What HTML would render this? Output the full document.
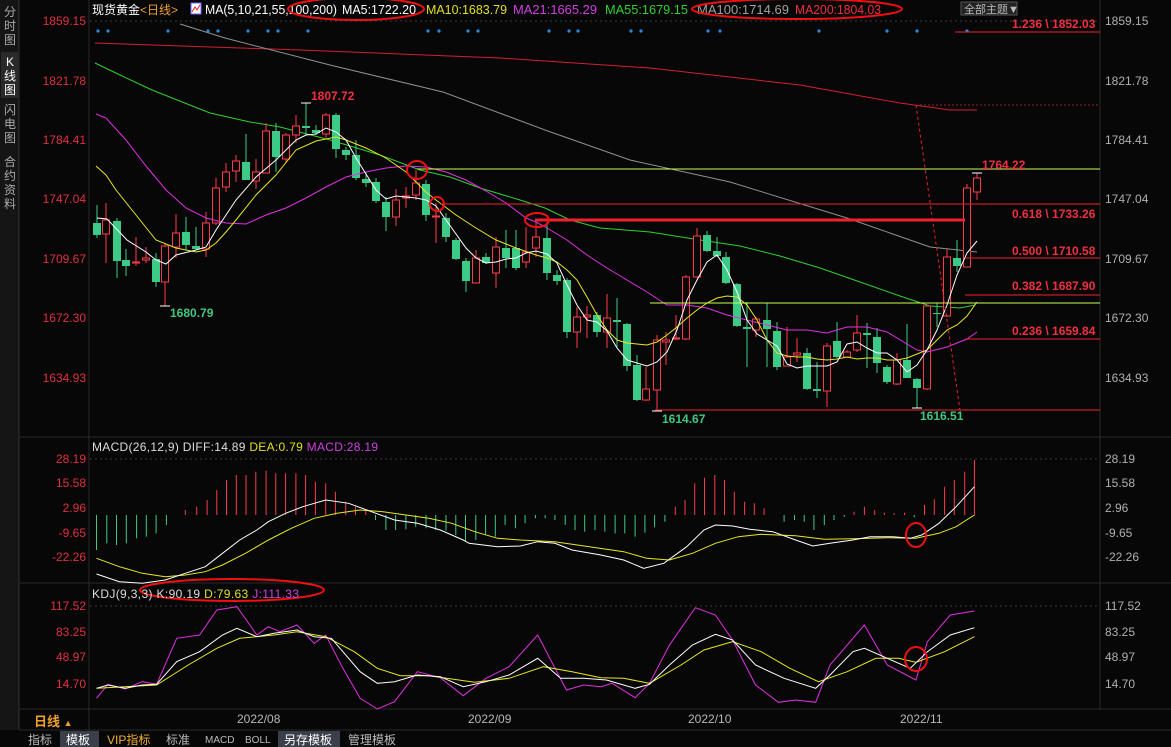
<!DOCTYPE html>
<html><head><meta charset="utf-8"><style>
html,body{margin:0;padding:0;background:#070707;width:1171px;height:747px;overflow:hidden;font-family:"Liberation Sans","Noto Sans CJK SC",sans-serif}
svg{position:absolute;left:0;top:0}
</style></head><body>
<svg id="s" width="1171" height="747" xmlns="http://www.w3.org/2000/svg" font-family="Liberation Sans, Noto Sans CJK SC, sans-serif">
<rect width="1171" height="747" fill="#070707"/>
<rect x="0" y="0" width="19" height="730" fill="#151515"/>
<line x1="19" y1="0" x2="19" y2="730" stroke="#333"/>
<g fill="#aaa" font-size="12" text-anchor="middle">
<text x="10" y="16">分</text><text x="10" y="30">时</text><text x="10" y="44">图</text>
<rect x="1" y="52" width="17" height="46" fill="#2a2a2a"/>
<text x="10" y="66" fill="#fff">K</text><text x="10" y="80" fill="#fff">线</text><text x="10" y="94" fill="#fff">图</text>
<text x="10" y="114">闪</text><text x="10" y="128">电</text><text x="10" y="142">图</text>
<text x="10" y="166">合</text><text x="10" y="180">约</text><text x="10" y="194">资</text><text x="10" y="208">料</text>
</g>
<g stroke="#2a2a2a">
<line x1="89" y1="0" x2="89" y2="730"/><line x1="1100" y1="0" x2="1100" y2="710"/>
<line x1="19" y1="437" x2="1171" y2="437"/><line x1="19" y1="583" x2="1171" y2="583"/>
<line x1="19" y1="709" x2="1171" y2="709"/><line x1="19" y1="730" x2="1171" y2="730"/>
</g>
<g stroke="#3a3a3a" stroke-dasharray="2,3">
<line x1="90" y1="21" x2="1100" y2="21"/><line x1="90" y1="459" x2="1100" y2="459"/><line x1="90" y1="606" x2="1100" y2="606"/>
</g>
<text x="92" y="14" font-size="12" fill="#fff">现货黄金<tspan fill="#f0a030">&lt;日线&gt;</tspan></text>
<rect x="191" y="3" width="10" height="11" fill="#fff" stroke="#66f"/><polyline points="192,12 195,7 197,10 200,5" stroke="#e02020" fill="none"/>
<g font-size="12.5" lengthAdjust="spacingAndGlyphs">
<text x="205" y="14" fill="#fff" textLength="132" lengthAdjust="spacingAndGlyphs">MA(5,10,21,55,100,200)</text>
<text x="342" y="14" fill="#fff" textLength="74" lengthAdjust="spacingAndGlyphs">MA5:1722.20</text>
<text x="426" y="14" fill="#e0e020" textLength="81" lengthAdjust="spacingAndGlyphs">MA10:1683.79</text>
<text x="513" y="14" fill="#d040e0" textLength="84" lengthAdjust="spacingAndGlyphs">MA21:1665.29</text>
<text x="605" y="14" fill="#30d030" textLength="83" lengthAdjust="spacingAndGlyphs">MA55:1679.15</text>
<text x="697" y="14" fill="#a0a0a0" textLength="92" lengthAdjust="spacingAndGlyphs">MA100:1714.69</text>
<text x="795" y="14" fill="#f03040" textLength="86" lengthAdjust="spacingAndGlyphs">MA200:1804.03</text>
</g>
<rect x="961" y="2" width="56" height="13" fill="#222" stroke="#555"/>
<text x="964" y="13" font-size="11" fill="#bbb">全部主题▼</text>
<g font-size="12" fill="#e03040" text-anchor="end">
<text x="86" y="25">1859.15</text><text x="86" y="85">1821.78</text><text x="86" y="144">1784.41</text><text x="86" y="203">1747.04</text><text x="86" y="263">1709.67</text><text x="86" y="322">1672.30</text><text x="86" y="382">1634.93</text>
<text x="86" y="463">28.19</text><text x="86" y="487">15.58</text><text x="86" y="512">2.96</text><text x="86" y="537">-9.65</text><text x="86" y="561">-22.26</text>
<text x="86" y="610">117.52</text><text x="86" y="636">83.25</text><text x="86" y="661">48.97</text><text x="86" y="688">14.70</text>
</g>
<g font-size="12" fill="#b0b0b0">
<text x="1105" y="25">1859.15</text><text x="1105" y="85">1821.78</text><text x="1105" y="144">1784.41</text><text x="1105" y="203">1747.04</text><text x="1105" y="263">1709.67</text><text x="1105" y="322">1672.30</text><text x="1105" y="382">1634.93</text>
<text x="1105" y="463">28.19</text><text x="1105" y="487">15.58</text><text x="1105" y="512">2.96</text><text x="1105" y="537">-9.65</text><text x="1105" y="561">-22.26</text>
<text x="1105" y="610">117.52</text><text x="1105" y="636">83.25</text><text x="1105" y="661">48.97</text><text x="1105" y="688">14.70</text>
</g>
<g id="g"></g>
<g stroke-width="1">
<line x1="955" y1="32" x2="1100" y2="32" stroke="#f02030"/>
<line x1="920" y1="105" x2="1100" y2="105" stroke="#902020" stroke-dasharray="2,2"/>
<line x1="417" y1="169" x2="1100" y2="169" stroke="#c8ff50"/>
<line x1="440" y1="204" x2="1100" y2="204" stroke="#f02030"/>
<line x1="535" y1="220" x2="965" y2="220" stroke="#f02030" stroke-width="3"/>
<line x1="965" y1="258" x2="1100" y2="258" stroke="#f02030"/>
<line x1="965" y1="295" x2="1100" y2="295" stroke="#f02030"/>
<line x1="650" y1="303" x2="1100" y2="303" stroke="#c8ff50"/>
<line x1="965" y1="339" x2="1100" y2="339" stroke="#f02030"/>
<line x1="655" y1="410" x2="1100" y2="410" stroke="#f02030"/>
<line x1="916" y1="105" x2="960" y2="410" stroke="#f02030" stroke-dasharray="3,3"/>
</g>
<g font-size="12" fill="#f03040" font-weight="bold">
<text x="1012" y="28">1.236 \ 1852.03</text>
<text x="982" y="169">1764.22</text>
<text x="1012" y="218">0.618 \ 1733.26</text>
<text x="1012" y="255">0.500 \ 1710.58</text>
<text x="1012" y="290">0.382 \ 1687.90</text>
<text x="1012" y="335">0.236 \ 1659.84</text>
<text x="311" y="100">1807.72</text>
</g>
<g font-size="12" fill="#40c880" font-weight="bold">
<text x="170" y="317">1680.79</text><text x="662" y="423">1614.67</text><text x="920" y="420">1616.51</text>
</g>
<g fill="none" stroke="#f01010" stroke-width="2">
<ellipse cx="356" cy="9" rx="68" ry="11"/><ellipse cx="797" cy="9" rx="105" ry="10"/>
<ellipse cx="417" cy="170" rx="10" ry="9"/><ellipse cx="437" cy="204" rx="7" ry="7"/><ellipse cx="537" cy="220" rx="12" ry="7"/>
<ellipse cx="916" cy="535" rx="10" ry="12"/><ellipse cx="916" cy="659" rx="11" ry="12"/>
<ellipse cx="232" cy="590" rx="92" ry="11"/>
</g>
<text x="92" y="451" font-size="12" fill="#ddd" textLength="286" lengthAdjust="spacing">MACD(26,12,9) DIFF:14.89 <tspan fill="#e0e020">DEA:0.79</tspan> <tspan fill="#d040e0">MACD:28.19</tspan></text>
<text x="92" y="598" font-size="12" fill="#ddd" textLength="207" lengthAdjust="spacing">KDJ(9,3,3) K:90.19 <tspan fill="#e0e020">D:79.63</tspan> <tspan fill="#d040e0">J:111.33</tspan></text>
<text x="34" y="726" font-size="13" fill="#f0a030" font-weight="bold">日线 <tspan font-size="9">▲</tspan></text>
<g font-size="12" fill="#b8b8b8"><text x="237" y="723">2022/08</text><text x="468" y="723">2022/09</text><text x="688" y="723">2022/10</text><text x="900" y="723">2022/11</text></g>
<rect x="60" y="731" width="39" height="16" fill="#3a3f4a"/><rect x="278" y="731" width="62" height="16" fill="#3a3f4a"/>
<g font-size="12" fill="#bbb">
<text x="28" y="744">指标</text><text x="66" y="744" fill="#fff">模板</text><text x="107" y="744" fill="#f0b030">VIP指标</text><text x="166" y="744">标准</text>
<text x="205" y="743" font-size="10">MACD</text><text x="245" y="743" font-size="10">BOLL</text><text x="284" y="744" fill="#fff">另存模板</text><text x="348" y="744">管理模板</text>
</g>
</svg>
<script>
var g=document.getElementById('g'),NS='http://www.w3.org/2000/svg';
function el(t,a){var e=document.createElementNS(NS,t);for(var k in a)e.setAttribute(k,a[k]);g.appendChild(e);return e;}
function pl(p,c,w){el('polyline',{points:p.map(function(q){return q[0]+','+q[1]}).join(' '),fill:'none',stroke:c,'stroke-width':w||1});}
pl([[95,43],[300,50],[500,58],[650,68],[800,85],[900,103],[950,110],[977,110]],'#d02030');
pl([[180,24],[225,38],[330,65],[443,92],[545,130],[630,160],[730,182],[847,218],[930,247],[977,252]],'#909090');
pl([[95,63],[120,75],[152,90],[210,113],[250,122],[280,127],[330,140],[380,155],[420,170],[450,177],[480,188],[520,200],[545,208],[570,220],[600,228],[650,232],[700,240],[740,246],[780,256],[820,268],[860,282],[900,296],[930,306],[960,308],[975,305]],'#30d030');
[98,108,168,208,218,248,268,278,308,428,439,468,478,549,569,578,631,641,708,720,819,887,917,967].forEach(function(x){el('circle',{cx:x,cy:31,r:1.6,fill:'#2a8ae0'});});
var C=[[97,223,235,205,238,'g'],[106,220,234,203,263,'r'],[117,221,261,218,278,'g'],[126,260,266,249,276,'g'],[136,262,263,237,266,'r'],[146,258,260,247,263,'r'],[156,259,282,253,287,'g'],[165,246,282,243,306,'r'],[176,233,247,214,258,'r'],[186,232,245,217,250,'g'],[196,246,249,227,250,'g'],[206,223,249,212,257,'r'],[216,188,223,178,225,'r'],[226,172,187,163,192,'r'],[236,161,171,155,182,'r'],[246,162,180,134,180,'g'],[256,172,181,159,189,'r'],[266,131,173,123,173,'r'],[276,131,157,123,172,'g'],[286,135,159,133,162,'r'],[296,126,135,115,143,'r'],[306,126,128,103,135,'g'],[316,130,133,125,135,'g'],[326,115,134,113,138,'r'],[336,115,149,113,158,'g'],[346,150,155,147,160,'g'],[356,155,178,140,180,'g'],[366,179,183,172,187,'g'],[376,182,201,178,203,'g'],[386,202,217,197,231,'g'],[396,200,217,189,226,'r'],[406,196,198,187,208,'r'],[416,183,195,170,200,'r'],[426,184,215,180,221,'g'],[436,216,217,203,243,'r'],[446,218,237,213,242,'g'],[456,240,259,238,260,'g'],[466,261,281,258,292,'g'],[476,258,283,250,283,'r'],[486,257,263,253,264,'g'],[496,247,273,237,288,'r'],[506,248,258,230,268,'g'],[516,248,268,230,270,'g'],[526,252,262,227,268,'r'],[536,237,248,222,257,'r'],
[547,238,273,222,280,'g'],[557,275,281,270,285,'g'],[567,280,332,278,338,'g'],[577,317,332,307,348,'r'],[587,315,317,306,338,'r'],[597,315,332,312,337,'g'],[607,318,332,294,348,'r'],[617,320,322,298,347,'g'],[627,324,366,323,371,'g'],[637,365,400,355,401,'g'],[646,389,400,367,401,'r'],[657,340,390,335,411,'r'],[666,340,342,332,365,'r'],[676,338,339,315,340,'r'],[686,277,339,275,340,'r'],[697,236,277,228,278,'r'],[707,235,251,231,252,'g'],[717,251,256,237,257,'g'],[726,257,283,252,284,'g'],[737,284,326,283,327,'g'],[747,327,329,302,367,'g'],[756,319,330,317,337,'r'],[767,320,329,303,367,'g'],[777,331,367,322,370,'g'],[787,357,366,327,366,'r'],[797,353,355,338,362,'r'],[807,353,389,348,390,'g'],[817,389,391,362,398,'g'],[827,346,391,343,407,'r'],[837,341,357,322,358,'g'],[847,352,357,350,358,'r'],[857,333,350,315,352,'r'],[867,333,335,323,368,'g'],[877,337,363,328,373,'g'],[887,367,382,365,384,'g'],[897,360,384,353,385,'r'],[907,360,378,324,378,'g'],[917,379,388,378,408,'g'],[927,306,389,305,390,'r'],[937,313,314,303,327,'g'],[947,257,316,249,317,'r'],[957,258,266,240,272,'g'],[967,188,267,184,267,'r'],[977,178,192,173,200,'r']];
C.forEach(function(c){var col=c[5]=='r'?'#ff3a4a':'#3ccb86';
el('line',{x1:c[0],x2:c[0],y1:c[3],y2:c[4],stroke:col});
var h=Math.max(c[2]-c[1],1);
if(c[5]=='r')el('rect',{x:c[0]-3.5,y:c[1],width:7,height:h,fill:'#070707',stroke:col});
else el('rect',{x:c[0]-4,y:c[1],width:8,height:h,fill:col});});
el('line',{x1:301,x2:311,y1:103,y2:103,stroke:'#fff'});el('line',{x1:160,x2:170,y1:306,y2:306,stroke:'#fff'});
el('line',{x1:652,x2:662,y1:411,y2:411,stroke:'#fff'});el('line',{x1:912,x2:922,y1:408,y2:408,stroke:'#fff'});el('line',{x1:972,x2:982,y1:173,y2:173,stroke:'#fff'});
pl([[96,114],[106,118],[126,140],[146,166],[166,190],[186,208],[206,218],[226,223],[246,224],[266,215],[286,208],[306,198],[326,187],[346,177],[366,172],[386,168],[406,166],[426,167],[446,172],[466,180],[486,191],[506,203],[526,218],[536,222],[547,228],[567,240],[587,255],[607,268],[627,280],[647,292],[667,305],[687,305],[707,308],[727,315],[747,320],[767,325],[787,330],[807,330],[827,333],[847,327],[867,327],[887,332],[907,344],[917,350],[927,352],[947,347],[967,339],[977,332]],'#e030e0');
pl([[96,166],[106,175],[116,190],[136,215],[156,240],[176,248],[196,252],[206,250],[216,243],[226,232],[236,220],[256,195],[276,175],[296,150],[316,141],[336,137],[346,140],[366,148],[386,158],[406,172],[426,192],[436,200],[456,215],[476,228],[496,240],[516,248],[536,255],[547,258],[557,262],[567,270],[577,280],[587,297],[597,315],[607,330],[617,340],[627,343],[637,344],[647,345],[657,342],[667,335],[677,327],[687,318],[697,310],[707,303],[717,298],[727,296],[737,297],[747,305],[757,320],[767,340],[777,353],[787,356],[797,357],[807,357],[817,359],[827,360],[837,359],[847,357],[857,359],[867,358],[877,358],[887,360],[897,360],[907,358],[917,354],[927,350],[937,340],[947,330],[957,325],[967,316],[977,302]],'#e8e820');
pl([[97,218],[107,219],[127,240],[146,252],[156,260],[166,264],[176,255],[196,250],[206,247],[216,230],[236,200],[256,177],[276,160],[296,140],[306,135],[316,134],[326,128],[336,132],[346,140],[356,158],[376,190],[386,199],[396,196],[416,198],[426,200],[436,206],[446,220],[466,248],[476,258],[486,263],[496,262],[506,259],[516,258],[526,253],[536,251],[547,254],[557,263],[567,285],[577,305],[587,320],[597,322],[607,331],[617,348],[627,360],[637,363],[647,366],[657,362],[667,352],[677,330],[687,300],[697,280],[707,262],[717,255],[727,270],[737,292],[747,320],[757,334],[767,340],[777,346],[787,364],[797,368],[807,366],[817,366],[827,366],[837,362],[847,344],[857,342],[867,348],[877,353],[887,353],[897,360],[907,372],[917,365],[927,350],[937,330],[947,305],[957,275],[967,253],[977,241]],'#ffffff');
function mx(X){return +(85+X/1.745).toFixed(1);} function my(Y,b){return +(b+Y/3).toFixed(1);}
var B=[[20,330],[38,310],[55,315],[72,310],[90,295],[107,290],[124,280],[142,255],[175,210],[195,200],[213,180],[230,150],[247,120],[264,105],[281,105],[298,95],[316,92],[333,100],[350,100],[368,100],[385,105],[402,125],[420,130],[437,155],[455,185],[472,200],[490,210],[507,240],[525,270],[542,270],[560,268],[577,260],[595,265],[612,270],[630,272],[647,285],[664,305],[682,300],[699,285],[716,290],[733,255],[751,265],[768,250],[786,235],[803,235],[820,240],[838,255],[855,270],[872,275],[890,270],[907,275],[925,280],[942,280],[960,290],[977,278],[994,262],[1012,245],[1030,200],[1047,180],[1064,130],[1081,113],[1099,105],[1116,120],[1133,155],[1151,185],[1168,190],[1185,205],[1220,245],[1238,240],[1255,245],[1272,270],[1290,255],[1307,240],[1325,230],[1342,215],[1360,200],[1378,210],[1395,218],[1412,220],[1430,218],[1447,232],[1465,195],[1482,178],[1500,140],[1517,120],[1535,95],[1552,60]];
B.forEach(function(b){var y=my(b[1],440);el('line',{x1:mx(b[0]),x2:mx(b[0]),y1:515,y2:y,stroke:y<515?'#ff3a4a':'#3ccb86'});});
function P(a,b){return a.map(function(q){return [mx(q[0]),my(q[1],b)];});}
pl(P([[20,355],[60,380],[100,400],[140,410],[175,405],[210,395],[240,375],[280,340],[320,300],[360,265],[400,235],[440,220],[480,210],[520,215],[560,225],[600,235],[640,250],[680,275],[720,295],[760,300],[820,305],[880,320],[940,335],[980,355],[1020,360],[1060,340],[1100,310],[1140,290],[1180,283],[1240,287],[1290,298],[1340,296],[1400,293],[1450,295],[1490,280],[1520,260],[1552,225]],440),'#e8e820');
pl(P([[20,402],[60,425],[100,430],[140,420],[175,400],[210,380],[240,340],[270,300],[300,270],[320,245],[350,220],[380,200],[420,180],[460,190],[500,215],[540,240],[580,250],[620,270],[660,300],[670,310],[720,320],[760,318],[790,305],[820,310],[850,330],[900,345],[940,360],[975,385],[1010,370],[1050,320],[1080,270],[1100,255],[1130,258],[1160,268],[1200,275],[1240,300],[1270,318],[1300,310],[1340,300],[1370,290],[1410,290],[1440,295],[1460,285],[1490,250],[1520,200],[1552,140]],440),'#fff');
pl(P([[20,340],[40,298],[70,312],[100,290],[125,298],[160,160],[200,150],[230,75],[265,65],[300,150],[320,125],[340,140],[370,120],[400,175],[420,150],[450,250],[480,340],[510,372],[540,350],[580,260],[620,278],[660,332],[700,280],[740,245],[790,150],[840,315],[870,300],[900,305],[920,295],[960,338],[985,295],[1020,180],[1065,68],[1100,90],[1130,165],[1170,300],[1210,352],[1240,345],[1275,352],[1300,240],[1360,120],[1400,240],[1450,285],[1470,170],[1510,90],[1552,78]],585),'#e030e0');
pl(P([[20,310],[70,305],[125,300],[180,240],[230,190],[270,160],[330,150],[370,140],[420,155],[470,200],[510,250],[550,272],[600,272],[680,292],[740,280],[800,245],[850,260],[900,278],[940,280],[985,295],[1040,240],[1080,195],[1130,170],[1180,200],[1230,250],[1280,290],[1330,260],[1380,220],[1420,220],[1450,232],[1500,200],[1552,155]],585),'#e8e820');
pl(P([[20,310],[40,300],[70,310],[100,300],[125,298],[160,230],[200,200],[240,150],[265,130],[300,155],[330,145],[370,135],[400,155],[430,160],[450,200],[480,260],[510,295],[540,290],[580,270],[620,275],[660,305],[700,290],[740,270],[790,220],[830,280],[870,280],[910,285],[960,310],[985,298],[1020,240],[1060,180],[1100,148],[1130,165],[1170,240],[1220,280],[1275,310],[1300,270],[1340,200],[1360,190],[1400,220],[1440,250],[1470,200],[1510,150],[1552,128]],585),'#fff');
</script>
</body></html>
